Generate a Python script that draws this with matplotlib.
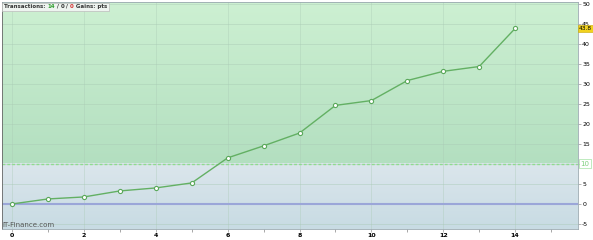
import numpy as np
import matplotlib.pyplot as plt
from matplotlib.colors import LinearSegmentedColormap
from matplotlib.patches import Rectangle
from matplotlib.text import Annotation

# cumulative gains (pts) per transaction
trade_no = [0, 1, 2, 3, 4, 5, 6, 7, 8, 9, 10, 11, 12, 13, 14]
gains = [0, 1.25, 1.75, 3.25, 4.0, 5.25, 11.5, 14.5, 17.7, 24.6, 25.8, 30.8, 33.1, 34.3, 43.8]
y_ticks = [-5, 0, 5, 10, 15, 20, 25, 30, 35, 40, 45, 50]
x_ticks = [0, 2, 4, 6, 8, 10, 12, 14]
threshold = 10
last_value = 43.8

fig = plt.figure(figsize=(5.93, 2.40), dpi=100)
ax = fig.add_axes([2 / 593, 11 / 240, 576 / 593, 227 / 240])
xmin, xmax = -0.28, 15.75
ymin, ymax = -6.25, 50.4

# background zones with a soft vertical gradient
grad = np.linspace(0, 1, 100).reshape(-1, 1)
ax.imshow(grad, extent=[xmin, xmax, threshold, ymax], aspect='auto', origin='upper',
          cmap=LinearSegmentedColormap.from_list('g', ['#cdf0d2', '#b3dfc0']), zorder=0)
ax.imshow(grad, extent=[xmin, xmax, ymin, threshold], aspect='auto', origin='upper',
          cmap=LinearSegmentedColormap.from_list('b', ['#dbe6ec', '#c8dbe3']), zorder=0)

for y in y_ticks:
    ax.axhline(y, color='#a9c9b4', lw=0.5, alpha=0.6, zorder=1)
for x in x_ticks:
    ax.axvline(x, color='#a9c9b4', lw=0.5, alpha=0.5, zorder=1)

ax.axhline(threshold, color='#8fdc8f', lw=1, ls=(0, (2, 1.5)), zorder=2)
ax.axhline(0, color='#9ba6d8', lw=1.5, zorder=2)

ax.plot(trade_no, gains, color='#63b063', lw=1, marker='o', ms=3,
        mfc='white', mec='#5aa85a', mew=0.8, zorder=3)

ax.set_xlim(xmin, xmax)
ax.set_ylim(ymin, ymax)
ax.yaxis.tick_right()
ax.set_yticks(y_ticks)
ax.set_yticklabels(['' if v == threshold else str(v) for v in y_ticks])
ax.set_xticks(x_ticks)
ax.set_xticklabels([str(v) for v in x_ticks], fontweight='bold')
ax.set_xticks(range(1, 16, 2), minor=True)
ax.tick_params(axis='both', labelsize=4.5, length=2, width=0.5, color='#999999', pad=1)
ax.tick_params(axis='x', which='minor', length=2, color='#999999')
for s in ax.spines.values():
    s.set_color('#9aa8b0')
    s.set_linewidth(0.6)
ax.spines['left'].set_color('#666666')

# highlighted labels on the right axis
ax.text(1.002, (last_value - ymin) / (ymax - ymin), str(last_value), transform=ax.transAxes,
        fontsize=4.2, va='center', ha='left',
        bbox=dict(boxstyle='square,pad=0.12', fc='#f2d21e', ec='#c9a800', lw=0.4))
ax.text(1.004, (threshold - ymin) / (ymax - ymin), str(threshold), transform=ax.transAxes,
        fontsize=5, va='center', ha='left', color='#7fd07f',
        bbox=dict(boxstyle='square,pad=0.2', fc='white', ec='#8fdc8f', lw=0.4))

ax.text(0.0, 0.005, 'IT-Finance.com', transform=ax.transAxes, fontsize=5,
        color='#555555', ha='left', va='bottom')

# header: coloured pieces chained one after another
pieces = [('Transactions: ', '#333333'), ('14', '#2e9e2e'), (' / ', '#333333'),
          ('0', '#333333'), (' / ', '#333333'), ('0', '#d43030'), (' Gains: pts', '#333333')]
hdr_font = dict(fontsize=4.0, fontweight='bold', family='Liberation Sans Narrow')
first = fig.text(4 / 593, 236 / 240, pieces[0][0], color=pieces[0][1], va='top', ha='left',
                 zorder=5, **hdr_font)
prev = first
for s, c in pieces[1:]:
    prev = fig.add_artist(Annotation(s, xy=(1, 0), xycoords=prev, va='bottom', ha='left',
                                     color=c, zorder=5, **hdr_font))

fig.canvas.draw()
r = fig.canvas.get_renderer()
b0 = first.get_window_extent(r)
b1 = prev.get_window_extent(r)
fig.add_artist(Rectangle((b0.x0 - 2, b0.y0 - 2), b1.x1 - b0.x0 + 4, b0.height + 3,
                         transform=None, fc='#eef4f0', ec='#bbbbbb', lw=0.5, zorder=4))

fig.savefig('out.png', dpi=100)
